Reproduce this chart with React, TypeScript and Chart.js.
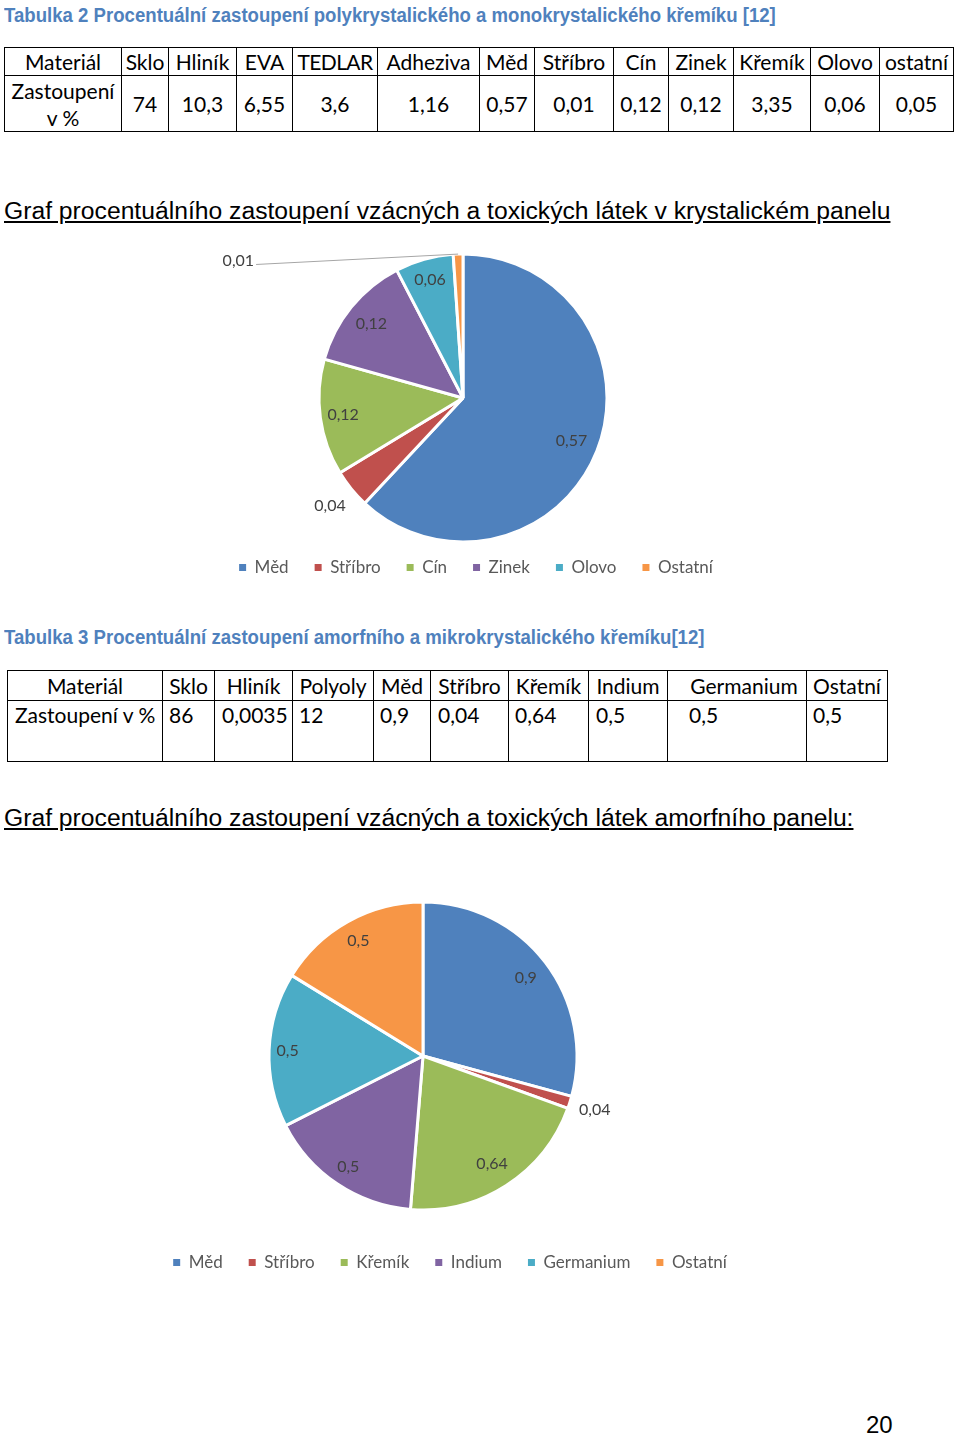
import React, { useEffect, useRef } from "react";
import { Chart, registerables } from "chart.js";

Chart.register(...registerables);

// ---------------- data ----------------
const SLICE_COLORS = ["#4F81BD", "#C0504D", "#9BBB59", "#8064A2", "#4BACC6", "#F79646"];

const TITLE_T2 = "Tabulka 2 Procentuální zastoupení polykrystalického a monokrystalického křemíku [12]";
const T2_HEAD = ["Materiál", "Sklo", "Hliník", "EVA", "TEDLAR", "Adheziva", "Měd", "Stříbro", "Cín", "Zinek", "Křemík", "Olovo", "ostatní"];
const T2_ROW_LABEL = ["Zastoupení", "v %"];
const T2_VALUES = ["74", "10,3", "6,55", "3,6", "1,16", "0,57", "0,01", "0,12", "0,12", "3,35", "0,06", "0,05"];

const GRAPH1_TITLE = "Graf procentuálního zastoupení vzácných a toxických látek v krystalickém panelu";
const PIE1_LABELS = ["Měd", "Stříbro", "Cín", "Zinek", "Olovo", "Ostatní"];
const PIE1_VALUES = [0.57, 0.04, 0.12, 0.12, 0.06, 0.01];

const TITLE_T3 = "Tabulka 3 Procentuální zastoupení amorfního a mikrokrystalického křemíku[12]";
const T3_HEAD = ["Materiál", "Sklo", "Hliník", "Polyoly", "Měd", "Stříbro", "Křemík", "Indium", "Germanium", "Ostatní"];
const T3_VALUES = ["Zastoupení v %", "86", "0,0035", "12", "0,9", "0,04", "0,64", "0,5", "0,5", "0,5"];

const GRAPH2_TITLE = "Graf procentuálního zastoupení vzácných a toxických látek amorfního panelu:";
const PIE2_LABELS = ["Měd", "Stříbro", "Křemík", "Indium", "Germanium", "Ostatní"];
const PIE2_VALUES = [0.9, 0.04, 0.64, 0.5, 0.5, 0.5];

const PAGE_NUMBER = "20";

// ---------------- layout (styles only) ----------------
const T2_COLS = [4, 121, 168, 236, 292, 377, 479, 534, 613, 668, 733, 810, 879, 953];
const T2_ROWS = [47, 75, 131];
const T3_COLS = [7, 162, 214, 292, 373, 430, 508, 588, 667, 806, 887];
const T3_ROWS = [670, 700, 761];
const T3_INDENT = [8, 7, 8, 7, 7, 8, 7, 8, 22, 7];

const fmt = (v: number) => String(v).replace(".", ",");

const pieLabelsPlugin: any = {
  id: "pieLabels",
  afterLayout(chart: any, _args: any, opts: any) {
    const lg = chart.legend;
    if (lg && opts && opts.legendShift) {
      lg.left += opts.legendShift;
      lg.right += opts.legendShift;
    }
  },
  afterDatasetsDraw(chart: any, _args: any, opts: any) {
    if (!opts || !opts.positions) return;
    const ctx = chart.ctx;
    const meta = chart.getDatasetMeta(0);
    const values = chart.data.datasets[0].data as number[];
    ctx.save();
    ctx.font = opts.font;
    ctx.fillStyle = opts.color;
    ctx.textAlign = "center";
    ctx.textBaseline = "middle";
    meta.data.forEach((el: any, i: number) => {
      const p = el.getProps(["x", "y", "startAngle", "endAngle", "outerRadius"], true);
      const mid = (p.startAngle + p.endAngle) / 2;
      const text = fmt(values[i]);
      const pos = opts.positions[i];
      if (pos.callout) {
        const lx = p.x + pos.callout[0] * p.outerRadius;
        const ly = p.y + pos.callout[1] * p.outerRadius;
        const w = ctx.measureText(text).width;
        const ax = p.x + Math.cos(mid) * p.outerRadius;
        const ay = p.y + Math.sin(mid) * p.outerRadius;
        ctx.strokeStyle = opts.leaderColor;
        ctx.lineWidth = 1;
        ctx.beginPath();
        ctx.moveTo(lx + w / 2 + 2, ly + 4);
        ctx.lineTo(ax, ay);
        ctx.stroke();
        ctx.fillText(text, lx, ly);
      } else {
        ctx.fillText(
          text,
          p.x + Math.cos(mid) * pos.r * p.outerRadius,
          p.y + Math.sin(mid) * pos.r * p.outerRadius
        );
      }
    });
    ctx.restore();
  },
};

type PieProps = {
  labels: string[];
  values: number[];
  top: number;
  height: number;
  radius: number;
  padding: { top: number; bottom: number; left: number; right: number };
  legendShift: number;
  positions: any[];
};

function PieChart(props: PieProps) {
  const ref = useRef<HTMLCanvasElement | null>(null);
  useEffect(() => {
    if (!ref.current) return;
    const defaultGen = (Chart as any).overrides.pie.plugins.legend.labels.generateLabels;
    const chart = new Chart(ref.current, {
      type: "pie",
      data: {
        labels: props.labels,
        datasets: [
          {
            data: props.values,
            backgroundColor: SLICE_COLORS,
            borderColor: "#ffffff",
            borderWidth: 3,
            clip: false as any,
          } as any,
        ],
      },
      options: {
        responsive: false,
        animation: false,
        events: [],
        radius: props.radius,
        layout: { padding: props.padding },
        plugins: {
          tooltip: { enabled: false },
          legend: {
            position: "bottom",
            labels: {
              boxWidth: 7,
              boxHeight: 7,
              padding: 26,
              color: "#595959",
              font: { family: "Lato", size: 17 },
              generateLabels: (c: any) =>
                defaultGen(c).map((it: any) => ({ ...it, lineWidth: 0, strokeStyle: it.fillStyle })),
            },
          },
          pieLabels: {
            positions: props.positions,
            font: "16px Lato",
            color: "#404040",
            leaderColor: "#A6A6A6",
            legendShift: props.legendShift,
          },
        } as any,
      } as any,
      plugins: [pieLabelsPlugin],
    });
    return () => chart.destroy();
  }, []);
  return (
    <canvas
      ref={ref}
      width={960}
      height={props.height}
      style={{ position: "absolute", left: 0, top: props.top, width: 960, height: props.height }}
    />
  );
}

const cellFont = "Lato, 'Open Sans', sans-serif";

function Cell(p: { x0: number; x1: number; y0: number; y1: number; children: any; style?: any }) {
  return (
    <div
      style={{
        position: "absolute",
        left: p.x0,
        top: p.y0,
        width: p.x1 - p.x0 + 1,
        height: p.y1 - p.y0 + 1,
        border: "1px solid #000",
        boxSizing: "border-box",
        fontFamily: cellFont,
        fontSize: 21,
        color: "#000",
        display: "flex",
        whiteSpace: "nowrap",
        ...p.style,
      }}
    >
      {p.children}
    </div>
  );
}

export default function App() {
  useEffect(() => {
    document.body.style.margin = "0";
  }, []);

  const blueHead: any = {
    position: "absolute",
    left: 4,
    fontFamily: "'Liberation Sans', Arial, sans-serif",
    fontWeight: "bold",
    fontSize: 20,
    lineHeight: "24px",
    color: "#4F81BD",
    whiteSpace: "nowrap",
    transform: "scaleX(0.93)",
    transformOrigin: "0 50%",
  };
  const grafHead: any = {
    position: "absolute",
    left: 4,
    fontFamily: "'Liberation Sans', Arial, sans-serif",
    fontSize: 24.7,
    lineHeight: "30px",
    color: "#000",
    textDecoration: "underline",
    whiteSpace: "nowrap",
  };

  return (
    <div style={{ position: "absolute", left: 0, top: 0, width: 960, height: 1437, background: "#fff", overflow: "hidden" }}>
      <div style={{ ...blueHead, top: 3 }}>{TITLE_T2}</div>

      {/* Table 2 */}
      {T2_HEAD.map((h, i) => (
        <Cell key={"h2" + i} x0={T2_COLS[i]} x1={T2_COLS[i + 1]} y0={T2_ROWS[0]} y1={T2_ROWS[1]}
          style={{ alignItems: "center", justifyContent: "center", letterSpacing: h === "TEDLAR" ? "-0.6px" : "0px" }}>
          {h}
        </Cell>
      ))}
      <Cell x0={T2_COLS[0]} x1={T2_COLS[1]} y0={T2_ROWS[1]} y1={T2_ROWS[2]}
        style={{ flexDirection: "column", alignItems: "center", justifyContent: "center", lineHeight: "27px" }}>
        <span>{T2_ROW_LABEL[0]}</span>
        <span>{T2_ROW_LABEL[1]}</span>
      </Cell>
      {T2_VALUES.map((v, i) => (
        <Cell key={"v2" + i} x0={T2_COLS[i + 1]} x1={T2_COLS[i + 2]} y0={T2_ROWS[1]} y1={T2_ROWS[2]}
          style={{ alignItems: "center", justifyContent: "center" }}>
          {v}
        </Cell>
      ))}

      <div style={{ ...grafHead, top: 196 }}>{GRAPH1_TITLE}</div>

      <PieChart
        labels={PIE1_LABELS}
        values={PIE1_VALUES}
        top={240}
        height={350}
        radius={144}
        padding={{ top: 23, bottom: 4, left: 0, right: 34 }}
        legendShift={13}
        positions={[{ r: 0.81 }, { r: 1.19 }, { r: 0.84 }, { r: 0.82 }, { r: 0.85 }, { callout: [-1.56, -0.955] }]}
      />

      <div style={{ ...blueHead, top: 625 }}>{TITLE_T3}</div>

      {/* Table 3 */}
      {T3_HEAD.map((h, i) => (
        <Cell key={"h3" + i} x0={T3_COLS[i]} x1={T3_COLS[i + 1]} y0={T3_ROWS[0]} y1={T3_ROWS[1]}
          style={{ alignItems: "center", justifyContent: "center", paddingLeft: i === 8 ? 14 : 0 }}>
          {h}
        </Cell>
      ))}
      {T3_VALUES.map((v, i) => (
        <Cell key={"v3" + i} x0={T3_COLS[i]} x1={T3_COLS[i + 1]} y0={T3_ROWS[1]} y1={T3_ROWS[2]}
          style={{ alignItems: "flex-start", justifyContent: "flex-start", paddingLeft: T3_INDENT[i] - 1, paddingTop: 1, lineHeight: "26px" }}>
          {v}
        </Cell>
      ))}

      <div style={{ ...grafHead, top: 803 }}>{GRAPH2_TITLE}</div>

      <PieChart
        labels={PIE2_LABELS}
        values={PIE2_VALUES}
        top={880}
        height={402}
        radius={154}
        padding={{ top: 4, bottom: 1, left: 0, right: 114 }}
        legendShift={27}
        positions={[{ r: 0.84 }, { r: 1.17 }, { r: 0.83 }, { r: 0.87 }, { r: 0.88 }, { r: 0.86 }]}
      />

      <div style={{ position: "absolute", left: 866, top: 1411, fontFamily: "'Liberation Sans', Arial, sans-serif", fontSize: 24, lineHeight: "28px", color: "#000" }}>
        {PAGE_NUMBER}
      </div>
    </div>
  );
}
